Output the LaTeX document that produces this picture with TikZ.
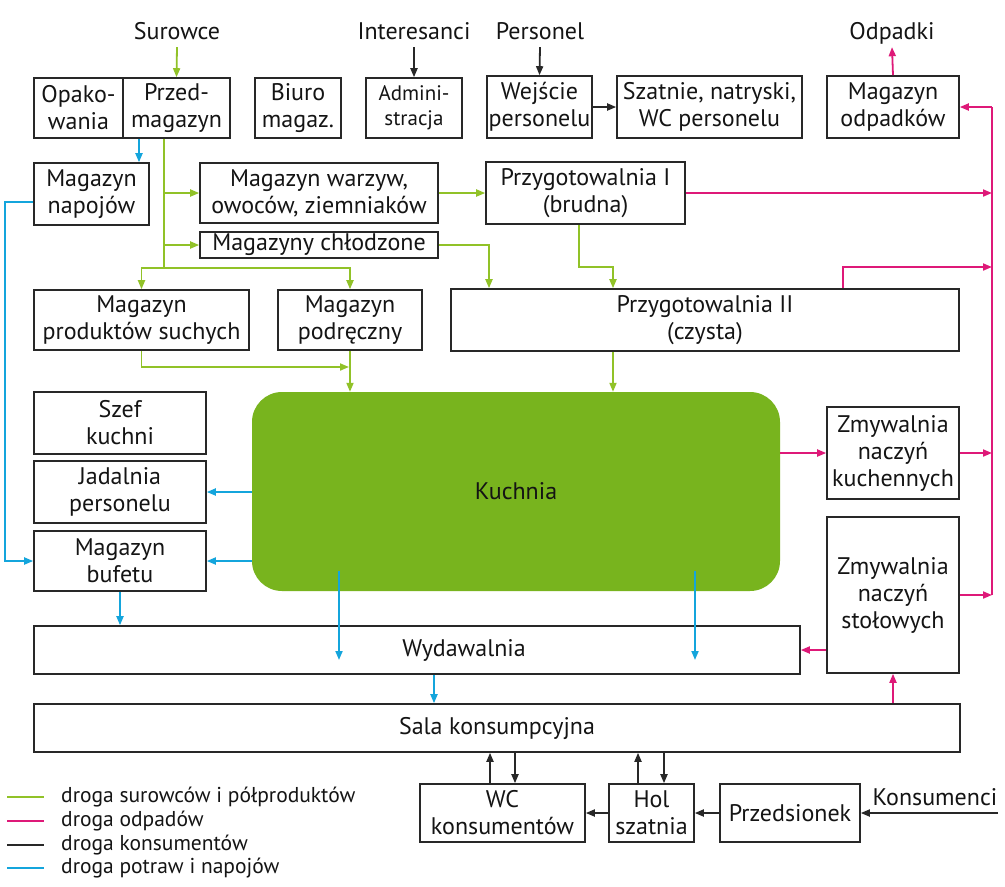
\documentclass[tikz,border=0pt]{standalone}
\usepackage{fontspec}
\setmainfont{PT Sans}
\usetikzlibrary{arrows.meta,calc}
\definecolor{gcol}{RGB}{145,194,40}
\definecolor{pcol}{RGB}{222,25,120}
\definecolor{bcol}{RGB}{20,165,220}
\definecolor{kcol}{RGB}{120,180,30}
\definecolor{lcol}{RGB}{40,40,40}
\definecolor{tcol}{RGB}{20,20,20}
\begin{document}
\begin{tikzpicture}[x=1pt,y=-1pt,
  box/.style={draw=lcol,line width=1.6pt,inner sep=0pt,align=center,
    font=\fontsize{24}{27}\selectfont,text=tcol},
  lbl/.style={inner xsep=2pt,inner ysep=8pt,text height=17pt,text depth=0pt,
    anchor=base,font=\fontsize{24}{27}\selectfont,text=tcol},
  tip/.style={-{Triangle[length=9pt,width=7pt]}},
  gline/.style={line width=1.8pt,draw=gcol},
  pline/.style={line width=1.8pt,draw=pcol},
  bline/.style={line width=1.8pt,draw=bcol},
  kline/.style={line width=1.8pt,draw=lcol},
  gr/.style={gline,tip},
  pk/.style={pline,tip},
  bl/.style={bline,tip},
  bk/.style={kline,tip},
  legtext/.style={anchor=west,inner sep=0pt,font=\fontsize{21.5}{24}\selectfont,text=tcol}
]
\useasboundingbox[fill=white] (0,0) rectangle (1005,887);

% labels
\node[lbl] (sur) at (177,39) {Surowce};
\node[lbl] (inter) at (414,39) {Interesanci};
\node[lbl] (pers) at (540,39) {Personel};
\node[lbl] (odpadki) at (892,39) {Odpadki};
\node[lbl] (konst) at (935,805) {Konsumenci};

% boxes
\node[box,minimum width=89pt,minimum height=60pt] (opak) at (78.5,108) {Opako-\\wania};
\node[box,minimum width=107pt,minimum height=60pt] (przed) at (176.5,108) {Przed-\\magazyn};
\node[box,minimum width=86pt,minimum height=60pt] (biuro) at (298,108) {Biuro\\magaz.};
\node[box,minimum width=96pt,minimum height=60pt,font=\fontsize{21}{25}\selectfont] (admin) at (414,108) {Admini-\\stracja};
\node[box,minimum width=105pt,minimum height=62pt] (wej) at (539.5,107) {Wejście\\personelu};
\node[box,minimum width=185pt,minimum height=62pt] (szat) at (709.5,107) {Szatnie, natryski,\\WC personelu};
\node[box,minimum width=132pt,minimum height=62pt] (odpad) at (893,107) {Magazyn\\odpadków};

\node[box,minimum width=115pt,minimum height=62pt] (napoj) at (91.5,194) {Magazyn\\napojów};
\node[box,minimum width=238pt,minimum height=60pt] (warzyw) at (319,193) {Magazyn warzyw,\\owoców, ziemniaków};
\node[box,minimum width=238pt,minimum height=26pt] (chlod) at (319,245) {Magazyny chłodzone};
\node[box,minimum width=199pt,minimum height=62pt] (przyg1) at (585.5,193) {Przygotowalnia I\\(brudna)};

\node[box,minimum width=215pt,minimum height=60pt] (suche) at (141.5,320) {Magazyn\\produktów suchych};
\node[box,minimum width=144pt,minimum height=60pt] (podr) at (350,320) {Magazyn\\podręczny};
\node[box,minimum width=508pt,minimum height=62pt] (przyg2) at (705,320) {Przygotowalnia II\\(czysta)};

\node[box,minimum width=172pt,minimum height=62pt] (szef) at (120,423) {Szef\\kuchni};
\node[box,minimum width=172pt,minimum height=62pt] (jadal) at (120,492) {Jadalnia\\personelu};
\node[box,minimum width=172pt,minimum height=60pt] (bufet) at (120,561) {Magazyn\\bufetu};

\node[fill=kcol,rounded corners=30pt,inner sep=0pt,minimum width=528pt,minimum height=199pt,
  font=\fontsize{24}{27}\selectfont,text=tcol] (kuch) at (516,491.5) {Kuchnia};

\node[box,minimum width=132pt,minimum height=92pt] (zmk) at (893,453) {Zmywalnia\\naczyń\\kuchennych};
\node[box,minimum width=132pt,minimum height=156pt] (zms) at (893,595) {Zmywalnia\\naczyń\\stołowych};

\node[box,minimum width=766pt,minimum height=48pt] (wyd) at (417,650) {};
\node[inner sep=0pt,font=\fontsize{24}{27}\selectfont,text=tcol] (wydt) at (464,650) {Wydawalnia};
\node[box,minimum width=926pt,minimum height=48pt] (sala) at (497,728) {Sala konsumpcyjna};

\node[box,minimum width=165pt,minimum height=58pt] (wc) at (502.5,813) {WC\\konsumentów};
\node[box,minimum width=85pt,minimum height=58pt] (hol) at (651.5,813) {Hol\\szatnia};
\node[box,minimum width=140pt,minimum height=58pt] (przeds) at (790,813) {Przedsionek};

% helper coordinates
\coordinate (xt) at (164,268);
\coordinate (xb1) at (139,0);
\coordinate (xg1) at (489,0);
\coordinate (xg2) at (579,0);
\coordinate (xg3) at (613,0);
\coordinate (yg) at (0,267);
\coordinate (xp1) at (843,0);
\coordinate (pb) at (992,0);
\coordinate (bl2) at (5,202);
\coordinate (ka) at (339,571);
\coordinate (kae) at (339,660);
\coordinate (kb) at (695,571);
\coordinate (kbe) at (695,660);
\coordinate (xw) at (434,0);
\coordinate (xs1) at (490,0);
\coordinate (xs2) at (515,0);
\coordinate (xh1) at (638,0);
\coordinate (xh2) at (664,0);
\coordinate (kons) at (998,813);
\coordinate (gj) at (349,367);

% green
\draw[gr] (sur.south) -- (przed.north);
\draw[gline] (przed.south -| xt) -- (xt);
\draw[gr] (warzyw.west -| xt) -- (warzyw.west);
\draw[gr] (chlod.west -| xt) -- (chlod.west);
\draw[gr] (xt) -| (suche.north);
\draw[gr] (xt) -| (podr.north);
\draw[gr] (warzyw.east) -- (warzyw.east -| przyg1.west);
\draw[gr] (chlod.east) -| (przyg2.north -| xg1);
\draw[gr] (przyg1.south -| xg2) -- (yg -| xg2) -- (yg -| xg3) -- (przyg2.north -| xg3);
\draw[gr] (suche.south) |- (gj);
\draw[gr] (podr.south) -- (podr.south |- kuch.north);
\draw[gr] (przyg2.south -| xg3) -- (kuch.north -| xg3);

% pink
\draw[pk] (odpad.north) -- (odpadki.south);
\draw[pline] (zms.east -| pb) -- (odpad.east -| pb);
\draw[pk] (odpad.east -| pb) -- (odpad.east);
\draw[pk] (przyg1.east) -- (przyg1.east -| pb);
\draw[pk] (przyg2.north -| xp1) -- (yg -| xp1) -- (yg -| pb);
\draw[pk] (zmk.west -| kuch.east) -- (zmk.west);
\draw[pk] (zmk.east) -- (zmk.east -| pb);
\draw[pk] (zms.east) -- (zms.east -| pb);
\draw[pk] (zms.west |- wyd.east) -- (wyd.east);
\draw[pk] (sala.north -| zms.south) -- (zms.south);

% blue
\draw[bl] (przed.south -| xb1) -- (napoj.north -| xb1);
\draw[bl] (napoj.west |- bl2) -- (bl2) |- (bufet.west);
\draw[bl] (jadal.east -| kuch.west) -- (jadal.east);
\draw[bl] (bufet.east -| kuch.west) -- (bufet.east);
\draw[bl] (bufet.south) -- (bufet.south |- wyd.north);
\draw[bl] (ka) -- (kae);
\draw[bl] (kb) -- (kbe);
\draw[bl] (wyd.south -| xw) -- (sala.north -| xw);

% black
\draw[bk] (inter.south) -- (admin.north);
\draw[bk] (pers.south) -- (wej.north);
\draw[bk] (wej.east) -- (szat.west);
\draw[bk] (kons) -- (przeds.east);
\draw[bk] (przeds.west) -- (hol.east);
\draw[bk] (hol.west) -- (wc.east);
\draw[bk] (wc.north -| xs1) -- (sala.south -| xs1);
\draw[bk] (sala.south -| xs2) -- (wc.north -| xs2);
\draw[bk] (hol.north -| xh1) -- (sala.south -| xh1);
\draw[bk] (sala.south -| xh2) -- (hol.north -| xh2);

% legend
\draw[gline] (7,797) -- (44,797);
\draw[pline] (7,821) -- (44,821);
\draw[kline] (7,845) -- (44,845);
\draw[bline] (7,868) -- (44,868);
\node[legtext] (l1) at (61,797) {droga surowców i półproduktów};
\node[legtext] (l2) at (61,821) {droga odpadów};
\node[legtext] (l3) at (61,845) {droga konsumentów};
\node[legtext] (l4) at (61,868) {droga potraw i napojów};
\end{tikzpicture}
\end{document}
